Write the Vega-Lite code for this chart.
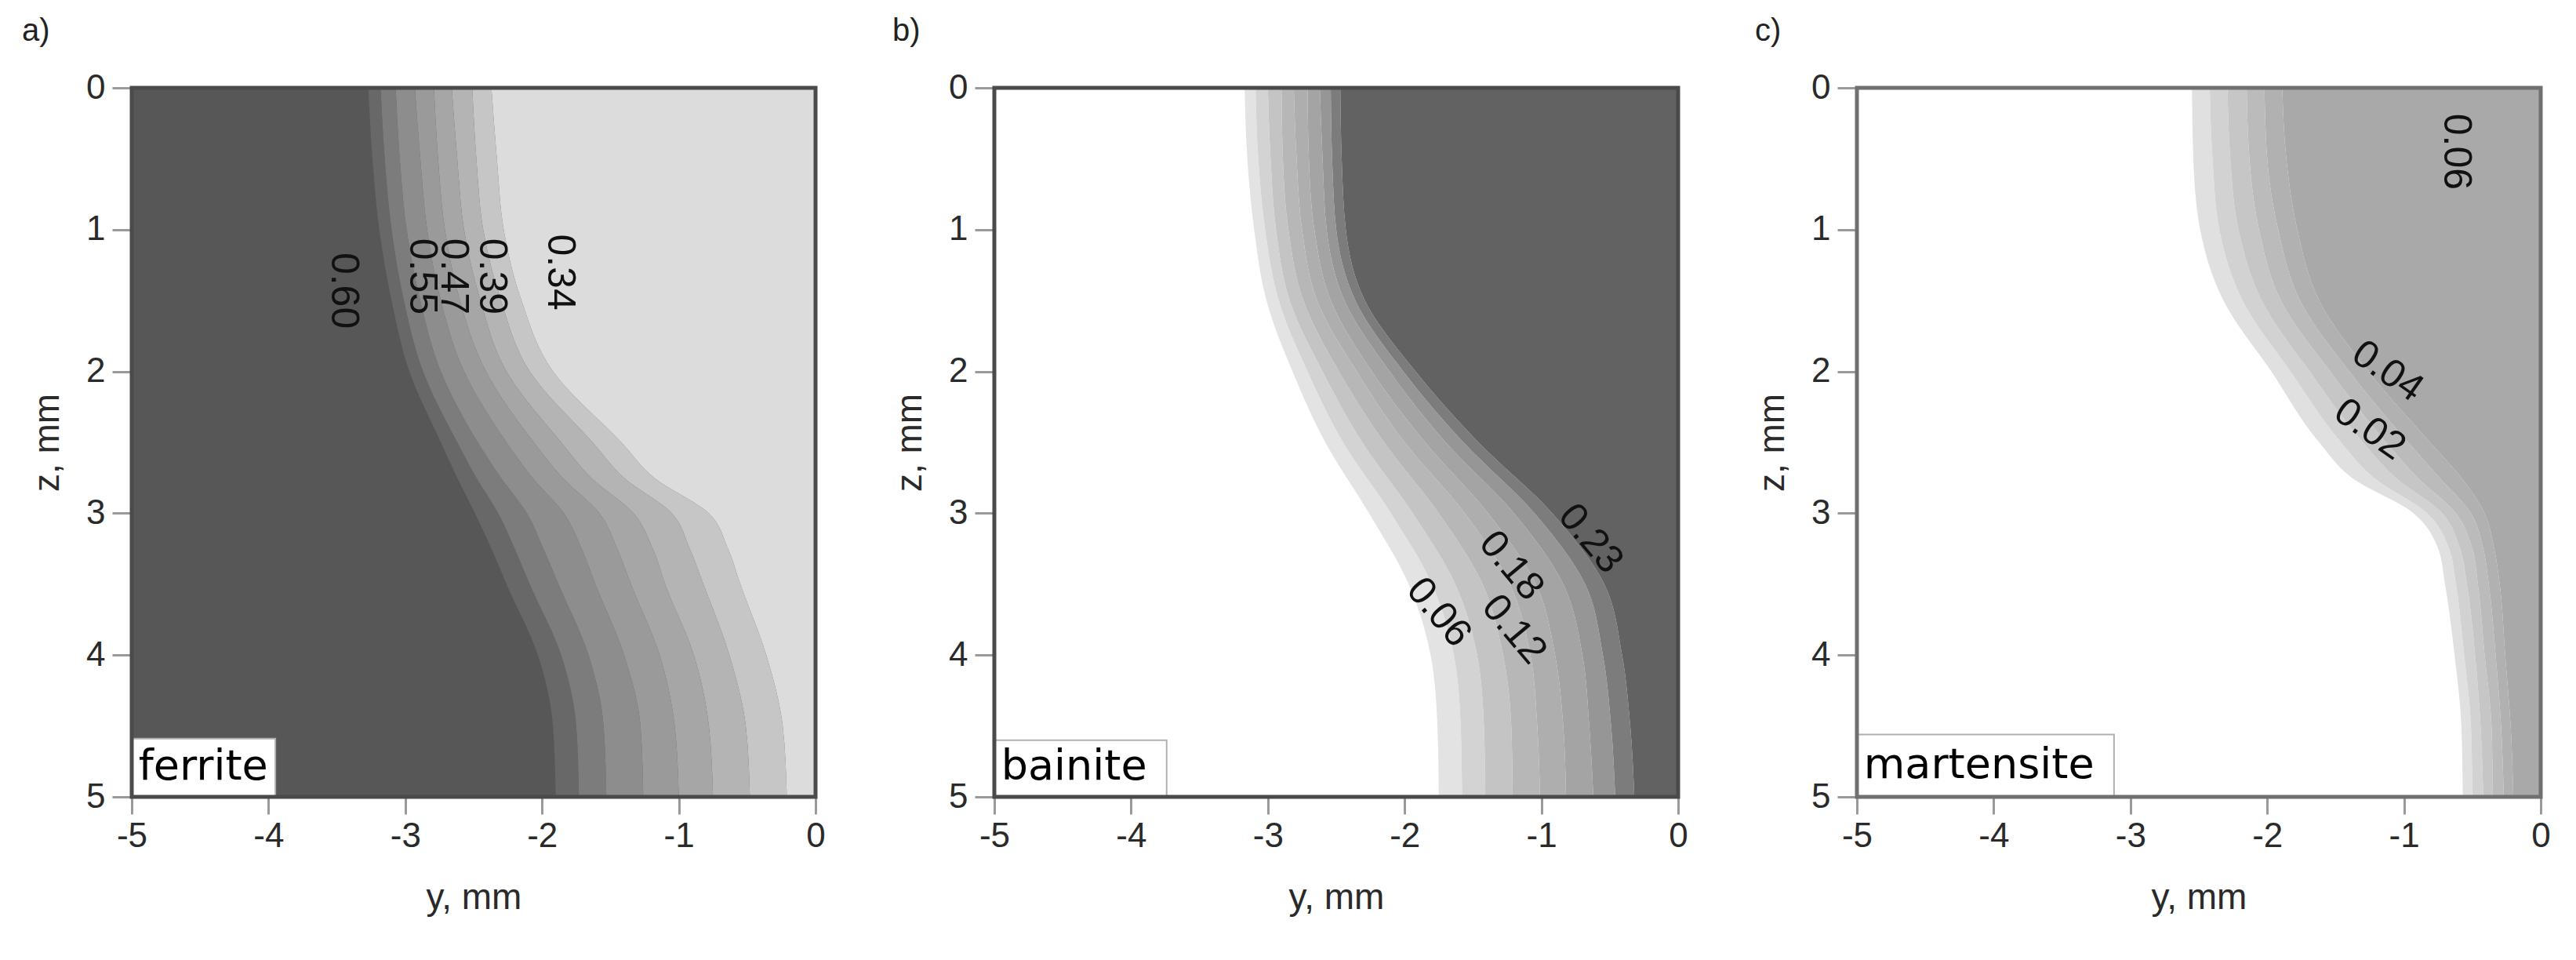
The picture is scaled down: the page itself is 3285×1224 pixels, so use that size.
{
  "$schema": "https://vega.github.io/schema/vega-lite/v6.json",
  "background": "white",
  "padding": {"left": 28, "top": 20, "right": 10, "bottom": 10},
  "config": {
    "font": "Liberation Sans",
    "axis": {"labelFont": "Liberation Sans", "labelFontSize": 44, "labelColor": "#2a2a2a", "titleFont": "Liberation Sans", "titleFontSize": 46, "titleFontWeight": "normal", "titleColor": "#2a2a2a", "tickColor": "#9a9a9a", "tickWidth": 3, "domain": false, "grid": false, "labelFlush": false, "labelOverlap": false, "labelExpr": "'' + datum.value"},
    "axisX": {"labelPadding": 6, "titlePadding": 34, "tickSize": 22},
    "axisY": {"labelPadding": 9, "titlePadding": 25, "tickSize": 25},
    "title": {"font": "Liberation Sans", "fontSize": 40, "fontWeight": "normal", "color": "#222222", "anchor": "start", "frame": "group", "offset": 30}
  },
  "datasets": {
    "bands_a": [
      {"b":"a1","z":0,"lo":-3.27,"hi":-3.18},{"b":"a1","z":0.5,"lo":-3.24,"hi":-3.15},{"b":"a1","z":1,"lo":-3.19,"hi":-3.10},{"b":"a1","z":1.5,"lo":-3.10,"hi":-3.01},{"b":"a1","z":2,"lo":-2.97,"hi":-2.87},{"b":"a1","z":2.5,"lo":-2.74,"hi":-2.62},{"b":"a1","z":2.75,"lo":-2.62,"hi":-2.48},{"b":"a1","z":3,"lo":-2.49,"hi":-2.32},{"b":"a1","z":3.25,"lo":-2.37,"hi":-2.20},{"b":"a1","z":3.5,"lo":-2.26,"hi":-2.09},{"b":"a1","z":4,"lo":-2.03,"hi":-1.86},{"b":"a1","z":4.5,"lo":-1.92,"hi":-1.75},{"b":"a1","z":5,"lo":-1.90,"hi":-1.73},
      {"b":"a2","z":0,"lo":-3.18,"hi":-3.07},{"b":"a2","z":0.5,"lo":-3.15,"hi":-3.04},{"b":"a2","z":1,"lo":-3.10,"hi":-2.99},{"b":"a2","z":1.5,"lo":-3.01,"hi":-2.89},{"b":"a2","z":2,"lo":-2.87,"hi":-2.74},{"b":"a2","z":2.5,"lo":-2.62,"hi":-2.47},{"b":"a2","z":2.75,"lo":-2.48,"hi":-2.30},{"b":"a2","z":3,"lo":-2.32,"hi":-2.11},{"b":"a2","z":3.25,"lo":-2.20,"hi":-1.99},{"b":"a2","z":3.5,"lo":-2.09,"hi":-1.88},{"b":"a2","z":4,"lo":-1.86,"hi":-1.66},{"b":"a2","z":4.5,"lo":-1.75,"hi":-1.55},{"b":"a2","z":5,"lo":-1.73,"hi":-1.53},
      {"b":"a3","z":0,"lo":-3.07,"hi":-2.93},{"b":"a3","z":0.5,"lo":-3.04,"hi":-2.89},{"b":"a3","z":1,"lo":-2.99,"hi":-2.84},{"b":"a3","z":1.5,"lo":-2.89,"hi":-2.74},{"b":"a3","z":2,"lo":-2.74,"hi":-2.57},{"b":"a3","z":2.5,"lo":-2.47,"hi":-2.26},{"b":"a3","z":2.75,"lo":-2.30,"hi":-2.07},{"b":"a3","z":3,"lo":-2.11,"hi":-1.84},{"b":"a3","z":3.25,"lo":-1.99,"hi":-1.71},{"b":"a3","z":3.5,"lo":-1.88,"hi":-1.61},{"b":"a3","z":4,"lo":-1.66,"hi":-1.40},{"b":"a3","z":4.5,"lo":-1.55,"hi":-1.28},{"b":"a3","z":5,"lo":-1.53,"hi":-1.26},
      {"b":"a4","z":0,"lo":-2.93,"hi":-2.79},{"b":"a4","z":0.5,"lo":-2.89,"hi":-2.76},{"b":"a4","z":1,"lo":-2.84,"hi":-2.71},{"b":"a4","z":1.5,"lo":-2.74,"hi":-2.60},{"b":"a4","z":2,"lo":-2.57,"hi":-2.41},{"b":"a4","z":2.5,"lo":-2.26,"hi":-2.06},{"b":"a4","z":2.75,"lo":-2.07,"hi":-1.85},{"b":"a4","z":3,"lo":-1.84,"hi":-1.58},{"b":"a4","z":3.25,"lo":-1.71,"hi":-1.45},{"b":"a4","z":3.5,"lo":-1.61,"hi":-1.35},{"b":"a4","z":4,"lo":-1.40,"hi":-1.14},{"b":"a4","z":4.5,"lo":-1.28,"hi":-1.03},{"b":"a4","z":5,"lo":-1.26,"hi":-1.00},
      {"b":"a5","z":0,"lo":-2.79,"hi":-2.66},{"b":"a5","z":0.5,"lo":-2.76,"hi":-2.62},{"b":"a5","z":1,"lo":-2.71,"hi":-2.57},{"b":"a5","z":1.5,"lo":-2.60,"hi":-2.45},{"b":"a5","z":2,"lo":-2.41,"hi":-2.26},{"b":"a5","z":2.5,"lo":-2.06,"hi":-1.86},{"b":"a5","z":2.75,"lo":-1.85,"hi":-1.64},{"b":"a5","z":3,"lo":-1.58,"hi":-1.33},{"b":"a5","z":3.25,"lo":-1.45,"hi":-1.19},{"b":"a5","z":3.5,"lo":-1.35,"hi":-1.10},{"b":"a5","z":4,"lo":-1.14,"hi":-0.89},{"b":"a5","z":4.5,"lo":-1.03,"hi":-0.78},{"b":"a5","z":5,"lo":-1.00,"hi":-0.75},
      {"b":"a6","z":0,"lo":-2.66,"hi":-2.51},{"b":"a6","z":0.5,"lo":-2.62,"hi":-2.48},{"b":"a6","z":1,"lo":-2.57,"hi":-2.43},{"b":"a6","z":1.5,"lo":-2.45,"hi":-2.30},{"b":"a6","z":2,"lo":-2.26,"hi":-2.09},{"b":"a6","z":2.5,"lo":-1.86,"hi":-1.63},{"b":"a6","z":2.75,"lo":-1.64,"hi":-1.40},{"b":"a6","z":3,"lo":-1.33,"hi":-1.05},{"b":"a6","z":3.25,"lo":-1.19,"hi":-0.92},{"b":"a6","z":3.5,"lo":-1.10,"hi":-0.82},{"b":"a6","z":4,"lo":-0.89,"hi":-0.63},{"b":"a6","z":4.5,"lo":-0.78,"hi":-0.51},{"b":"a6","z":5,"lo":-0.75,"hi":-0.48},
      {"b":"a7","z":0,"lo":-2.51,"hi":-2.37},{"b":"a7","z":0.5,"lo":-2.48,"hi":-2.33},{"b":"a7","z":1,"lo":-2.43,"hi":-2.28},{"b":"a7","z":1.5,"lo":-2.30,"hi":-2.15},{"b":"a7","z":2,"lo":-2.09,"hi":-1.92},{"b":"a7","z":2.5,"lo":-1.63,"hi":-1.42},{"b":"a7","z":2.75,"lo":-1.40,"hi":-1.18},{"b":"a7","z":3,"lo":-1.05,"hi":-0.78},{"b":"a7","z":3.25,"lo":-0.92,"hi":-0.64},{"b":"a7","z":3.5,"lo":-0.82,"hi":-0.55},{"b":"a7","z":4,"lo":-0.63,"hi":-0.36},{"b":"a7","z":4.5,"lo":-0.51,"hi":-0.24},{"b":"a7","z":5,"lo":-0.48,"hi":-0.21},
      {"b":"a8","z":0,"lo":-2.37,"hi":0},{"b":"a8","z":0.5,"lo":-2.33,"hi":0},{"b":"a8","z":1,"lo":-2.28,"hi":0},{"b":"a8","z":1.5,"lo":-2.15,"hi":0},{"b":"a8","z":2,"lo":-1.92,"hi":0},{"b":"a8","z":2.5,"lo":-1.42,"hi":0},{"b":"a8","z":2.75,"lo":-1.18,"hi":0},{"b":"a8","z":3,"lo":-0.78,"hi":0},{"b":"a8","z":3.25,"lo":-0.64,"hi":0},{"b":"a8","z":3.5,"lo":-0.55,"hi":0},{"b":"a8","z":4,"lo":-0.36,"hi":0},{"b":"a8","z":4.5,"lo":-0.24,"hi":0},{"b":"a8","z":5,"lo":-0.21,"hi":0}
    ],
    "bands_b": [
      {"b":"b1","z":0,"lo":-3.17,"hi":-3.09},{"b":"b1","z":0.5,"lo":-3.15,"hi":-3.07},{"b":"b1","z":1,"lo":-3.10,"hi":-3.02},{"b":"b1","z":1.5,"lo":-3.01,"hi":-2.92},{"b":"b1","z":2,"lo":-2.82,"hi":-2.71},{"b":"b1","z":2.5,"lo":-2.58,"hi":-2.45},{"b":"b1","z":3,"lo":-2.26,"hi":-2.10},{"b":"b1","z":3.5,"lo":-1.97,"hi":-1.80},{"b":"b1","z":4,"lo":-1.81,"hi":-1.64},{"b":"b1","z":4.5,"lo":-1.76,"hi":-1.59},{"b":"b1","z":5,"lo":-1.75,"hi":-1.58},
      {"b":"b2","z":0,"lo":-3.09,"hi":-3.00},{"b":"b2","z":0.5,"lo":-3.07,"hi":-2.98},{"b":"b2","z":1,"lo":-3.02,"hi":-2.94},{"b":"b2","z":1.5,"lo":-2.92,"hi":-2.84},{"b":"b2","z":2,"lo":-2.71,"hi":-2.60},{"b":"b2","z":2.5,"lo":-2.45,"hi":-2.31},{"b":"b2","z":3,"lo":-2.10,"hi":-1.94},{"b":"b2","z":3.5,"lo":-1.80,"hi":-1.63},{"b":"b2","z":4,"lo":-1.64,"hi":-1.47},{"b":"b2","z":4.5,"lo":-1.59,"hi":-1.42},{"b":"b2","z":5,"lo":-1.58,"hi":-1.41},
      {"b":"b3","z":0,"lo":-3.00,"hi":-2.90},{"b":"b3","z":0.5,"lo":-2.98,"hi":-2.89},{"b":"b3","z":1,"lo":-2.94,"hi":-2.85},{"b":"b3","z":1.5,"lo":-2.84,"hi":-2.74},{"b":"b3","z":2,"lo":-2.60,"hi":-2.48},{"b":"b3","z":2.5,"lo":-2.31,"hi":-2.15},{"b":"b3","z":3,"lo":-1.94,"hi":-1.75},{"b":"b3","z":3.5,"lo":-1.63,"hi":-1.43},{"b":"b3","z":4,"lo":-1.47,"hi":-1.28},{"b":"b3","z":4.5,"lo":-1.42,"hi":-1.22},{"b":"b3","z":5,"lo":-1.41,"hi":-1.21},
      {"b":"b4","z":0,"lo":-2.90,"hi":-2.81},{"b":"b4","z":0.5,"lo":-2.89,"hi":-2.79},{"b":"b4","z":1,"lo":-2.85,"hi":-2.75},{"b":"b4","z":1.5,"lo":-2.74,"hi":-2.64},{"b":"b4","z":2,"lo":-2.48,"hi":-2.35},{"b":"b4","z":2.5,"lo":-2.15,"hi":-2.00},{"b":"b4","z":3,"lo":-1.75,"hi":-1.56},{"b":"b4","z":3.5,"lo":-1.43,"hi":-1.23},{"b":"b4","z":4,"lo":-1.28,"hi":-1.08},{"b":"b4","z":4.5,"lo":-1.22,"hi":-1.03},{"b":"b4","z":5,"lo":-1.21,"hi":-1.01},
      {"b":"b5","z":0,"lo":-2.81,"hi":-2.71},{"b":"b5","z":0.5,"lo":-2.79,"hi":-2.70},{"b":"b5","z":1,"lo":-2.75,"hi":-2.66},{"b":"b5","z":1.5,"lo":-2.64,"hi":-2.54},{"b":"b5","z":2,"lo":-2.35,"hi":-2.24},{"b":"b5","z":2.5,"lo":-2.00,"hi":-1.85},{"b":"b5","z":3,"lo":-1.56,"hi":-1.39},{"b":"b5","z":3.5,"lo":-1.23,"hi":-1.04},{"b":"b5","z":4,"lo":-1.08,"hi":-0.90},{"b":"b5","z":4.5,"lo":-1.03,"hi":-0.84},{"b":"b5","z":5,"lo":-1.01,"hi":-0.82},
      {"b":"b6","z":0,"lo":-2.71,"hi":-2.62},{"b":"b6","z":0.5,"lo":-2.70,"hi":-2.60},{"b":"b6","z":1,"lo":-2.66,"hi":-2.57},{"b":"b6","z":1.5,"lo":-2.54,"hi":-2.44},{"b":"b6","z":2,"lo":-2.24,"hi":-2.11},{"b":"b6","z":2.5,"lo":-1.85,"hi":-1.70},{"b":"b6","z":3,"lo":-1.39,"hi":-1.20},{"b":"b6","z":3.5,"lo":-1.04,"hi":-0.84},{"b":"b6","z":4,"lo":-0.90,"hi":-0.70},{"b":"b6","z":4.5,"lo":-0.84,"hi":-0.65},{"b":"b6","z":5,"lo":-0.82,"hi":-0.62},
      {"b":"b7","z":0,"lo":-2.62,"hi":-2.54},{"b":"b7","z":0.5,"lo":-2.60,"hi":-2.53},{"b":"b7","z":1,"lo":-2.57,"hi":-2.50},{"b":"b7","z":1.5,"lo":-2.44,"hi":-2.36},{"b":"b7","z":2,"lo":-2.11,"hi":-2.01},{"b":"b7","z":2.5,"lo":-1.70,"hi":-1.57},{"b":"b7","z":3,"lo":-1.20,"hi":-1.05},{"b":"b7","z":3.5,"lo":-0.84,"hi":-0.68},{"b":"b7","z":4,"lo":-0.70,"hi":-0.55},{"b":"b7","z":4.5,"lo":-0.65,"hi":-0.49},{"b":"b7","z":5,"lo":-0.62,"hi":-0.46},
      {"b":"b8","z":0,"lo":-2.54,"hi":-2.47},{"b":"b8","z":0.5,"lo":-2.53,"hi":-2.46},{"b":"b8","z":1,"lo":-2.50,"hi":-2.43},{"b":"b8","z":1.5,"lo":-2.36,"hi":-2.29},{"b":"b8","z":2,"lo":-2.01,"hi":-1.92},{"b":"b8","z":2.5,"lo":-1.57,"hi":-1.46},{"b":"b8","z":3,"lo":-1.05,"hi":-0.92},{"b":"b8","z":3.5,"lo":-0.68,"hi":-0.54},{"b":"b8","z":4,"lo":-0.55,"hi":-0.41},{"b":"b8","z":4.5,"lo":-0.49,"hi":-0.35},{"b":"b8","z":5,"lo":-0.46,"hi":-0.32},
      {"b":"b9","z":0,"lo":-2.47,"hi":0},{"b":"b9","z":0.5,"lo":-2.46,"hi":0},{"b":"b9","z":1,"lo":-2.43,"hi":0},{"b":"b9","z":1.5,"lo":-2.29,"hi":0},{"b":"b9","z":2,"lo":-1.92,"hi":0},{"b":"b9","z":2.5,"lo":-1.46,"hi":0},{"b":"b9","z":3,"lo":-0.92,"hi":0},{"b":"b9","z":3.5,"lo":-0.54,"hi":0},{"b":"b9","z":4,"lo":-0.41,"hi":0},{"b":"b9","z":4.5,"lo":-0.35,"hi":0},{"b":"b9","z":5,"lo":-0.32,"hi":0}
    ],
    "bands_c": [
      {"b":"c1","z":0,"lo":-2.55,"hi":-2.42},{"b":"c1","z":0.5,"lo":-2.54,"hi":-2.40},{"b":"c1","z":1,"lo":-2.49,"hi":-2.35},{"b":"c1","z":1.5,"lo":-2.32,"hi":-2.18},{"b":"c1","z":2,"lo":-1.97,"hi":-1.83},{"b":"c1","z":2.5,"lo":-1.62,"hi":-1.46},{"b":"c1","z":2.75,"lo":-1.38,"hi":-1.22},{"b":"c1","z":3,"lo":-0.93,"hi":-0.83},{"b":"c1","z":3.25,"lo":-0.75,"hi":-0.67},{"b":"c1","z":3.5,"lo":-0.70,"hi":-0.62},{"b":"c1","z":4,"lo":-0.63,"hi":-0.56},{"b":"c1","z":4.5,"lo":-0.58,"hi":-0.51},{"b":"c1","z":5,"lo":-0.57,"hi":-0.50},
      {"b":"c2","z":0,"lo":-2.42,"hi":-2.29},{"b":"c2","z":0.5,"lo":-2.40,"hi":-2.27},{"b":"c2","z":1,"lo":-2.35,"hi":-2.21},{"b":"c2","z":1.5,"lo":-2.18,"hi":-2.04},{"b":"c2","z":2,"lo":-1.83,"hi":-1.69},{"b":"c2","z":2.5,"lo":-1.46,"hi":-1.30},{"b":"c2","z":2.75,"lo":-1.22,"hi":-1.06},{"b":"c2","z":3,"lo":-0.83,"hi":-0.72},{"b":"c2","z":3.25,"lo":-0.67,"hi":-0.59},{"b":"c2","z":3.5,"lo":-0.62,"hi":-0.54},{"b":"c2","z":4,"lo":-0.56,"hi":-0.48},{"b":"c2","z":4.5,"lo":-0.51,"hi":-0.44},{"b":"c2","z":5,"lo":-0.50,"hi":-0.42},
      {"b":"c3","z":0,"lo":-2.29,"hi":-2.15},{"b":"c3","z":0.5,"lo":-2.27,"hi":-2.13},{"b":"c3","z":1,"lo":-2.21,"hi":-2.06},{"b":"c3","z":1.5,"lo":-2.04,"hi":-1.90},{"b":"c3","z":2,"lo":-1.69,"hi":-1.54},{"b":"c3","z":2.5,"lo":-1.30,"hi":-1.13},{"b":"c3","z":2.75,"lo":-1.06,"hi":-0.90},{"b":"c3","z":3,"lo":-0.72,"hi":-0.62},{"b":"c3","z":3.25,"lo":-0.59,"hi":-0.50},{"b":"c3","z":3.5,"lo":-0.54,"hi":-0.46},{"b":"c3","z":4,"lo":-0.48,"hi":-0.41},{"b":"c3","z":4.5,"lo":-0.44,"hi":-0.36},{"b":"c3","z":5,"lo":-0.42,"hi":-0.35},
      {"b":"c4","z":0,"lo":-2.15,"hi":-2.02},{"b":"c4","z":0.5,"lo":-2.13,"hi":-2.00},{"b":"c4","z":1,"lo":-2.06,"hi":-1.92},{"b":"c4","z":1.5,"lo":-1.90,"hi":-1.76},{"b":"c4","z":2,"lo":-1.54,"hi":-1.40},{"b":"c4","z":2.5,"lo":-1.13,"hi":-0.97},{"b":"c4","z":2.75,"lo":-0.90,"hi":-0.74},{"b":"c4","z":3,"lo":-0.62,"hi":-0.51},{"b":"c4","z":3.25,"lo":-0.50,"hi":-0.42},{"b":"c4","z":3.5,"lo":-0.46,"hi":-0.38},{"b":"c4","z":4,"lo":-0.41,"hi":-0.33},{"b":"c4","z":4.5,"lo":-0.36,"hi":-0.29},{"b":"c4","z":5,"lo":-0.35,"hi":-0.27},
      {"b":"c5","z":0,"lo":-2.02,"hi":-1.89},{"b":"c5","z":0.5,"lo":-2.00,"hi":-1.86},{"b":"c5","z":1,"lo":-1.92,"hi":-1.78},{"b":"c5","z":1.5,"lo":-1.76,"hi":-1.62},{"b":"c5","z":2,"lo":-1.40,"hi":-1.26},{"b":"c5","z":2.5,"lo":-0.97,"hi":-0.81},{"b":"c5","z":2.75,"lo":-0.74,"hi":-0.58},{"b":"c5","z":3,"lo":-0.51,"hi":-0.41},{"b":"c5","z":3.25,"lo":-0.42,"hi":-0.34},{"b":"c5","z":3.5,"lo":-0.38,"hi":-0.30},{"b":"c5","z":4,"lo":-0.33,"hi":-0.26},{"b":"c5","z":4.5,"lo":-0.29,"hi":-0.22},{"b":"c5","z":5,"lo":-0.27,"hi":-0.20},
      {"b":"c6","z":0,"lo":-1.89,"hi":0},{"b":"c6","z":0.5,"lo":-1.86,"hi":0},{"b":"c6","z":1,"lo":-1.78,"hi":0},{"b":"c6","z":1.5,"lo":-1.62,"hi":0},{"b":"c6","z":2,"lo":-1.26,"hi":0},{"b":"c6","z":2.5,"lo":-0.81,"hi":0},{"b":"c6","z":2.75,"lo":-0.58,"hi":0},{"b":"c6","z":3,"lo":-0.41,"hi":0},{"b":"c6","z":3.25,"lo":-0.34,"hi":0},{"b":"c6","z":3.5,"lo":-0.30,"hi":0},{"b":"c6","z":4,"lo":-0.26,"hi":0},{"b":"c6","z":4.5,"lo":-0.22,"hi":0},{"b":"c6","z":5,"lo":-0.20,"hi":0}
    ],
    "clabels": [
      {"p":"a","label":"0.60","y":-3.45,"z":1.43},
      {"p":"a","label":"0.55","y":-2.88,"z":1.33},
      {"p":"a","label":"0.47","y":-2.65,"z":1.33},
      {"p":"a","label":"0.39","y":-2.37,"z":1.33},
      {"p":"a","label":"0.34","y":-1.87,"z":1.30},
      {"p":"b","label":"0.23","y":-0.64,"z":3.18},
      {"p":"b","label":"0.18","y":-1.22,"z":3.37},
      {"p":"b","label":"0.12","y":-1.20,"z":3.82},
      {"p":"b","label":"0.06","y":-1.75,"z":3.70},
      {"p":"c","label":"0.06","y":-0.62,"z":0.45},
      {"p":"c","label":"0.04","y":-1.12,"z":2.00},
      {"p":"c","label":"0.02","y":-1.25,"z":2.41}
    ],
    "tags": [
      {"p":"a","name":"ferrite"},
      {"p":"b","name":"bainite"},
      {"p":"c","name":"martensite"}
    ]
  },
  "spacing": 228,
  "bounds": "flush",
  "resolve": {"scale": {"color": "independent"}},
  "hconcat": [
    {
      "width": 872, "height": 904,
      "title": {"text": "a)", "dx": -140},
      "view": {"fill": "#575757", "stroke": null},
      "layer": [
        {
          "data": {"name": "bands_a"},
          "mark": {"type": "area", "orient": "horizontal", "interpolate": "monotone"},
          "encoding": {
            "y": {"field": "z", "type": "quantitative", "scale": {"domain": [0, 5], "reverse": true, "nice": false}, "axis": {"title": "z, mm", "values": [0, 1, 2, 3, 4, 5]}},
            "x": {"field": "lo", "type": "quantitative", "scale": {"domain": [-5, 0], "nice": false}, "axis": {"title": "y, mm", "values": [-5, -4, -3, -2, -1, 0]}},
            "x2": {"field": "hi"},
            "color": {"field": "b", "type": "nominal", "legend": null, "scale": {"domain": ["a1","a2","a3","a4","a5","a6","a7","a8"], "range": ["#686868","#7c7c7c","#8d8d8d","#9a9a9a","#a6a6a6","#b4b4b4","#c6c6c6","#dcdcdc"]}}
          }
        },
        {
          "data": {"name": "clabels"},
          "transform": [{"filter": "datum.p === 'a'"}],
          "mark": {"type": "text", "angle": 90, "font": "Liberation Sans", "fontSize": 50, "color": "#111111", "align": "center", "baseline": "middle"},
          "encoding": {
            "y": {"field": "z", "type": "quantitative", "axis": {"title": "z, mm", "values": [0, 1, 2, 3, 4, 5]}},
            "x": {"field": "y", "type": "quantitative", "axis": {"title": "y, mm", "values": [-5, -4, -3, -2, -1, 0]}},
            "text": {"field": "label"}
          }
        },
        {
          "data": {"name": "tags"},
          "transform": [{"filter": "datum.p === 'a'"}],
          "mark": {"type": "rect", "fill": "white", "stroke": "#b0b0b0", "strokeWidth": 2},
          "encoding": {"x": {"datum": -5}, "x2": {"datum": -3.95}, "y": {"datum": 4.59}, "y2": {"datum": 5}}
        },
        {
          "data": {"name": "tags"},
          "transform": [{"filter": "datum.p === 'a'"}],
          "mark": {"type": "text", "font": "DejaVu Sans", "fontSize": 54, "color": "#000000", "align": "left", "baseline": "middle"},
          "encoding": {"x": {"datum": -4.95}, "y": {"datum": 4.79}, "text": {"field": "name"}}
        },
        {
          "data": {"name": "tags"},
          "transform": [{"filter": "datum.p === 'a'"}],
          "mark": {"type": "rect", "fillOpacity": 0, "stroke": "#4a4a4a", "strokeWidth": 5},
          "encoding": {"x": {"datum": -5}, "x2": {"datum": 0}, "y": {"datum": 0}, "y2": {"datum": 5}}
        }
      ]
    },
    {
      "width": 872, "height": 904,
      "title": {"text": "b)", "dx": -130},
      "view": {"fill": "#ffffff", "stroke": null},
      "layer": [
        {
          "data": {"name": "bands_b"},
          "mark": {"type": "area", "orient": "horizontal", "interpolate": "monotone"},
          "encoding": {
            "y": {"field": "z", "type": "quantitative", "scale": {"domain": [0, 5], "reverse": true, "nice": false}, "axis": {"title": "z, mm", "values": [0, 1, 2, 3, 4, 5]}},
            "x": {"field": "lo", "type": "quantitative", "scale": {"domain": [-5, 0], "nice": false}, "axis": {"title": "y, mm", "values": [-5, -4, -3, -2, -1, 0]}},
            "x2": {"field": "hi"},
            "color": {"field": "b", "type": "nominal", "legend": null, "scale": {"domain": ["b1","b2","b3","b4","b5","b6","b7","b8","b9"], "range": ["#e3e3e3","#d3d3d3","#c4c4c4","#b7b7b7","#aeaeae","#a4a4a4","#969696","#7c7c7c","#626262"]}}
          }
        },
        {
          "data": {"name": "clabels"},
          "transform": [{"filter": "datum.p === 'b'"}],
          "mark": {"type": "text", "angle": 50, "font": "Liberation Sans", "fontSize": 50, "color": "#111111", "align": "center", "baseline": "middle"},
          "encoding": {
            "y": {"field": "z", "type": "quantitative", "axis": {"title": "z, mm", "values": [0, 1, 2, 3, 4, 5]}},
            "x": {"field": "y", "type": "quantitative", "axis": {"title": "y, mm", "values": [-5, -4, -3, -2, -1, 0]}},
            "text": {"field": "label"}
          }
        },
        {
          "data": {"name": "tags"},
          "transform": [{"filter": "datum.p === 'b'"}],
          "mark": {"type": "rect", "fill": "white", "stroke": "#b0b0b0", "strokeWidth": 2},
          "encoding": {"x": {"datum": -5}, "x2": {"datum": -3.74}, "y": {"datum": 4.6}, "y2": {"datum": 5}}
        },
        {
          "data": {"name": "tags"},
          "transform": [{"filter": "datum.p === 'b'"}],
          "mark": {"type": "text", "font": "DejaVu Sans", "fontSize": 54, "color": "#000000", "align": "left", "baseline": "middle"},
          "encoding": {"x": {"datum": -4.95}, "y": {"datum": 4.79}, "text": {"field": "name"}}
        },
        {
          "data": {"name": "tags"},
          "transform": [{"filter": "datum.p === 'b'"}],
          "mark": {"type": "rect", "fillOpacity": 0, "stroke": "#4a4a4a", "strokeWidth": 5},
          "encoding": {"x": {"datum": -5}, "x2": {"datum": 0}, "y": {"datum": 0}, "y2": {"datum": 5}}
        }
      ]
    },
    {
      "width": 872, "height": 904,
      "title": {"text": "c)", "dx": -130},
      "view": {"fill": "#ffffff", "stroke": null},
      "layer": [
        {
          "data": {"name": "bands_c"},
          "mark": {"type": "area", "orient": "horizontal", "interpolate": "monotone"},
          "encoding": {
            "y": {"field": "z", "type": "quantitative", "scale": {"domain": [0, 5], "reverse": true, "nice": false}, "axis": {"title": "z, mm", "values": [0, 1, 2, 3, 4, 5]}},
            "x": {"field": "lo", "type": "quantitative", "scale": {"domain": [-5, 0], "nice": false}, "axis": {"title": "y, mm", "values": [-5, -4, -3, -2, -1, 0]}},
            "x2": {"field": "hi"},
            "color": {"field": "b", "type": "nominal", "legend": null, "scale": {"domain": ["c1","c2","c3","c4","c5","c6"], "range": ["#e0e0e0","#d2d2d2","#c6c6c6","#bbbbbb","#b1b1b1","#a9a9a9"]}}
          }
        },
        {
          "data": {"name": "clabels"},
          "transform": [{"filter": "datum.p === 'c' && datum.label === '0.06'"}],
          "mark": {"type": "text", "angle": 90, "font": "Liberation Sans", "fontSize": 50, "color": "#111111", "align": "center", "baseline": "middle"},
          "encoding": {
            "y": {"field": "z", "type": "quantitative", "axis": {"title": "z, mm", "values": [0, 1, 2, 3, 4, 5]}},
            "x": {"field": "y", "type": "quantitative", "axis": {"title": "y, mm", "values": [-5, -4, -3, -2, -1, 0]}},
            "text": {"field": "label"}
          }
        },
        {
          "data": {"name": "clabels"},
          "transform": [{"filter": "datum.p === 'c' && datum.label !== '0.06'"}],
          "mark": {"type": "text", "angle": 35, "font": "Liberation Sans", "fontSize": 50, "color": "#111111", "align": "center", "baseline": "middle"},
          "encoding": {
            "y": {"field": "z", "type": "quantitative", "axis": {"title": "z, mm", "values": [0, 1, 2, 3, 4, 5]}},
            "x": {"field": "y", "type": "quantitative", "axis": {"title": "y, mm", "values": [-5, -4, -3, -2, -1, 0]}},
            "text": {"field": "label"}
          }
        },
        {
          "data": {"name": "tags"},
          "transform": [{"filter": "datum.p === 'c'"}],
          "mark": {"type": "rect", "fill": "white", "stroke": "#b0b0b0", "strokeWidth": 2},
          "encoding": {"x": {"datum": -5}, "x2": {"datum": -3.12}, "y": {"datum": 4.56}, "y2": {"datum": 5}}
        },
        {
          "data": {"name": "tags"},
          "transform": [{"filter": "datum.p === 'c'"}],
          "mark": {"type": "text", "font": "DejaVu Sans", "fontSize": 54, "color": "#000000", "align": "left", "baseline": "middle"},
          "encoding": {"x": {"datum": -4.95}, "y": {"datum": 4.78}, "text": {"field": "name"}}
        },
        {
          "data": {"name": "tags"},
          "transform": [{"filter": "datum.p === 'c'"}],
          "mark": {"type": "rect", "fillOpacity": 0, "stroke": "#707070", "strokeWidth": 5},
          "encoding": {"x": {"datum": -5}, "x2": {"datum": 0}, "y": {"datum": 0}, "y2": {"datum": 5}}
        }
      ]
    }
  ]
}
